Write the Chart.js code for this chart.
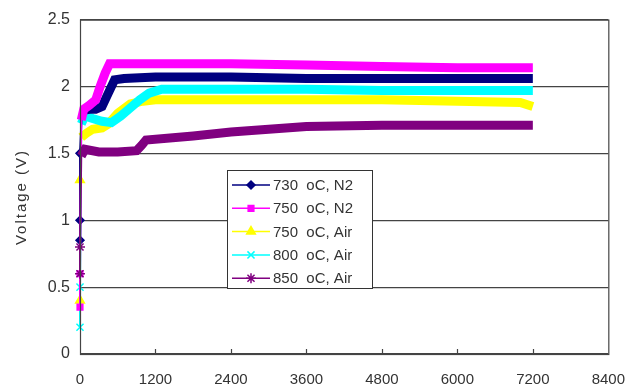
<!DOCTYPE html>
<html>
<head>
<meta charset="utf-8">
<script src="https://cdn.jsdelivr.net/npm/chart.js@4.4.1/dist/chart.umd.min.js"></script>
<style>
  html, body { margin: 0; padding: 0; background: #fff; }
  #wrap { width: 642px; height: 385px; position: relative; }
</style>
</head>
<body>
<div id="wrap"><canvas id="c"></canvas></div>
<script>
// Voltage vs time, five runs.
const X_TICKS = [0, 1200, 2400, 3600, 4800, 6000, 7200, 8400];
const Y_TITLE = "Voltage (V)";

const n730T = [0, 0, 0, 30, 150, 250, 350, 450, 550, 700, 1200, 2400, 3600, 4800, 6000, 7200];
const n730V = [0.85, 1.0, 1.5, 1.82, 1.83, 1.83, 1.85, 1.95, 2.05, 2.06, 2.07, 2.07, 2.06, 2.06, 2.06, 2.06];

const n750T = [0, 0, 20, 60, 150, 250, 320, 400, 470, 700, 1200, 2400, 3600, 4800, 6000, 7200];
const n750V = [0.35, 0.6, 1.75, 1.83, 1.86, 1.9, 2.0, 2.1, 2.17, 2.17, 2.17, 2.17, 2.16, 2.15, 2.14, 2.14];

const a750T = [0, 0, 20, 100, 200, 350, 450, 600, 800, 1000, 1200, 2400, 3600, 4800, 6000, 7000, 7200];
const a750V = [0.4, 1.3, 1.62, 1.65, 1.68, 1.69, 1.72, 1.8, 1.87, 1.89, 1.9, 1.9, 1.9, 1.9, 1.89, 1.88, 1.85];

const a800T = [0, 0, 20, 80, 200, 350, 500, 650, 800, 950, 1100, 1300, 2400, 3600, 4800, 6000, 7200];
const a800V = [0.2, 0.5, 1.72, 1.78, 1.76, 1.74, 1.73, 1.78, 1.84, 1.9, 1.95, 1.98, 1.98, 1.98, 1.97, 1.97, 1.97];

const a850T = [0, 0, 20, 80, 300, 600, 900, 980, 1050, 1800, 2400, 3000, 3600, 4800, 6000, 7200];
const a850V = [0.6, 0.8, 1.48, 1.53, 1.51, 1.51, 1.52, 1.56, 1.6, 1.63, 1.66, 1.68, 1.7, 1.71, 1.71, 1.71];

const SERIES = [
  { label: "730  oC, N2",  t: n730T, v: n730V, color: "#000080", marker: "rectRot",  r: 4 },
  { label: "750  oC, N2",  t: n750T, v: n750V, color: "#ff00ff", marker: "rect",     r: 4 },
  { label: "750  oC, Air", t: a750T, v: a750V, color: "#ffff00", marker: "triangle", r: 5 },
  { label: "800  oC, Air", t: a800T, v: a800V, color: "#00ffff", marker: "crossRot", r: 5 },
  { label: "850  oC, Air", t: a850T, v: a850V, color: "#800080", marker: "star",     r: 5 },
];

const FONT = "'Liberation Sans', Arial, sans-serif";
const AXIS = "#444";
const TEXT = "#333";

const datasets = SERIES.map((s, i) => ({
  label: s.label,
  data: s.t.map((t, k) => ({ x: t, y: s.v[k] })),
  borderColor: s.color,
  backgroundColor: s.color,
  borderWidth: 9,
  tension: 0,
  clip: 8,
  pointStyle: s.marker,
  pointRadius: (c) => (c.raw && c.raw.x === 0 ? s.r : 0),
  pointBorderWidth: 1.5,
  // the start-up jump at t=0 is a thin trace, the logged run a thick band
  segment: {
    borderWidth: (c) => (c.p0.parsed.x === 0 ? 2 : 9),
  },
  order: [2, 1, 4, 3, 0][i],
}));

// frame, inner x ticks, y title and the boxed legend sitting in the plot
const frame = {
  id: "frame",
  afterDatasetsDraw(chart) {
    const { ctx, chartArea: a, scales } = chart;
    ctx.save();
    ctx.strokeStyle = AXIS;
    ctx.lineWidth = 1.2;
    ctx.strokeRect(a.left + 0.5, a.top + 0.5, a.right - a.left, a.bottom - a.top);
    ctx.beginPath();
    X_TICKS.slice(1, -1).forEach((v) => {
      const x = Math.round(scales.x.getPixelForValue(v)) + 0.5;
      ctx.moveTo(x, a.bottom);
      ctx.lineTo(x, a.bottom - 5);
    });
    ctx.stroke();

    // y title, spaced out like the original
    ctx.save();
    ctx.translate(22, 197);
    ctx.rotate(-Math.PI / 2);
    ctx.font = "15px " + FONT;
    ctx.letterSpacing = "2px";
    ctx.fillStyle = TEXT;
    ctx.textAlign = "center";
    ctx.textBaseline = "middle";
    ctx.fillText(Y_TITLE, 0, 0);
    ctx.restore();

    // legend box
    const bx = 227, by = 170, bw = 145, bh = 118;
    ctx.fillStyle = "#fff";
    ctx.fillRect(bx, by, bw, bh);
    ctx.strokeStyle = "#333";
    ctx.lineWidth = 1;
    ctx.strokeRect(bx + 0.5, by + 0.5, bw, bh);
    ctx.font = "15px " + FONT;
    ctx.textBaseline = "middle";
    SERIES.forEach((s, i) => {
      const y = by + 15 + i * 23.3;
      ctx.strokeStyle = s.color;
      ctx.lineWidth = 1.5;
      ctx.beginPath();
      ctx.moveTo(bx + 5, y);
      ctx.lineTo(bx + 43, y);
      ctx.stroke();
      ctx.fillStyle = s.color;
      Chart.helpers.drawPoint(ctx, {
        pointStyle: s.marker, radius: s.r, borderWidth: 1.5, rotation: 0,
      }, bx + 24, y);
      ctx.fillStyle = TEXT;
      ctx.fillText(s.label, bx + 46, y + 1);
    });
    ctx.restore();
  },
};

new Chart(document.getElementById("c"), {
  type: "line",
  data: { datasets },
  options: {
    responsive: true,
    maintainAspectRatio: false,
    animation: false,
    layout: { padding: { top: 19, right: 22, left: 0, bottom: 0 } },
    plugins: { legend: { display: false }, tooltip: { enabled: false } },
    scales: {
      x: {
        type: "linear",
        min: 0, max: 8400,
        afterBuildTicks: (sc) => { sc.ticks = X_TICKS.map((v) => ({ value: v })); },
        afterFit: (sc) => { sc.height = 31; },
        ticks: {
          color: TEXT, padding: 17, maxRotation: 0,
          font: { family: FONT, size: 15 },
          callback: (v) => String(v),
        },
        grid: { display: false, drawTicks: false },
        border: { display: false },
      },
      y: {
        min: 0, max: 2.5,
        ticks: {
          stepSize: 0.5, color: TEXT, padding: 10,
          font: { family: FONT, size: 16 },
          callback: (v) => String(v),
        },
        afterFit: (sc) => { sc.width = 80; },
        grid: { color: AXIS, lineWidth: 1.2, drawTicks: false },
        border: { display: false },
      },
    },
  },
  plugins: [frame],
});
</script>
</body>
</html>
